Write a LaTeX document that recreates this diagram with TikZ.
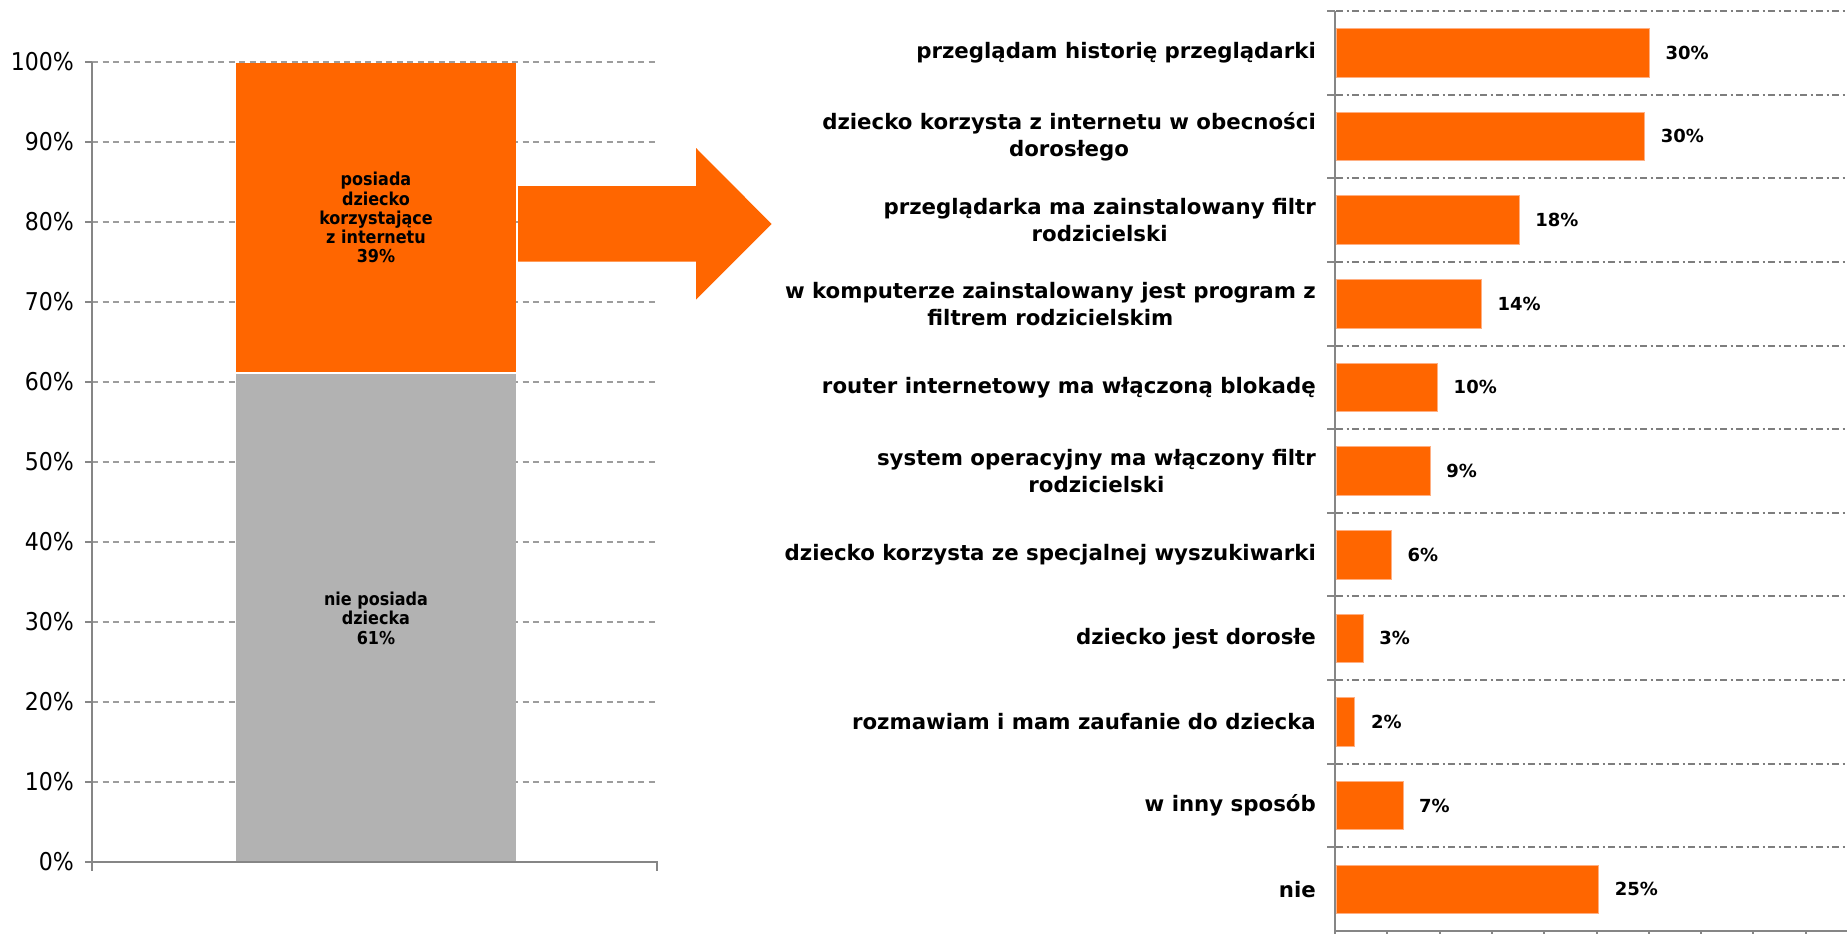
\documentclass[tikz,border=0pt]{standalone}
\usepackage{fontspec}
\setmainfont{DejaVu Sans}
\newfontfamily\condf{DejaVu Sans Condensed}
\definecolor{barorange}{HTML}{FF6600}
\definecolor{bargray}{HTML}{B2B2B2}
\definecolor{axisgray}{HTML}{868686}
\definecolor{gridgray}{HTML}{8C8C8C}
\tikzset{
  axisline/.style={draw=axisgray, line width=2pt},
  lgrid/.style={draw=gridgray!85, line width=1.4pt, dash pattern=on 6pt off 4.5pt},
  rgrid/.style={draw=gridgray!90!black, line width=2pt, dash pattern=on 7pt off 3.5pt on 2pt off 3.5pt},
  ylab/.style={font=\condf\fontsize{24.5}{28}\selectfont, anchor=east, inner sep=0pt},
  seglab/.style={font=\condf\bfseries\fontsize{17.8}{19.2}\selectfont, align=center, inner sep=0pt},
  catlab/.style={font=\bfseries\fontsize{21.3}{27}\selectfont, align=center, anchor=east, inner sep=0pt},
  vallab/.style={font=\bfseries\fontsize{18}{21}\selectfont, anchor=west, inner sep=0pt},
  hbar/.style={fill=barorange, draw={rgb,255:red,255;green,175;blue,130}, line width=0.8pt},
}
\begin{document}
\begin{tikzpicture}[x=1pt, y=-1pt]
\useasboundingbox (0,0) rectangle (1847,934);
\fill[white] (0,0) rectangle (1847,934);

% ---------- left chart ----------
\foreach \p in {1,...,10} {
  \draw[lgrid] (92,{862-80*\p}) -- (657,{862-80*\p});
}
\foreach \p/\t in {0/0\%,1/10\%,2/20\%,3/30\%,4/40\%,5/50\%,6/60\%,7/70\%,8/80\%,9/90\%,10/100\%} {
  \draw[axisline] (85,{862-80*\p}) -- (92,{862-80*\p});
  \node[ylab] (yl\p) at (74,{862-80*\p}) {\t};
}
\node[fill=bargray, inner sep=0pt, minimum width=280.4pt, minimum height=489pt, anchor=north west] (segno) at (235.6,373.5) {};
\node[fill=barorange, inner sep=0pt, minimum width=280.4pt, minimum height=310.1pt, anchor=north west] (segyes) at (235.6,62.4) {};
\draw[white, line width=1.5pt] (segyes.south west) -- (segyes.south east);
\node[seglab] (labyes) at (segyes.center) {posiada\\dziecko\\korzystające\\z internetu\\39\%};
\node[seglab] (labno) at (segno.center) {nie posiada\\dziecka\\61\%};
\draw[axisline] (92,62) -- (92,871);
\draw[axisline] (91,862) -- (657,862) -- (657,871);

% ---------- arrow ----------
\fill[barorange] (518,186) -- (696,186) -- (696,148) -- (771.6,224) -- (696,299.5) -- (696,261.5) -- (518,261.5) -- cycle;

% ---------- right chart ----------
\foreach \k in {0,...,10} {
  \draw[rgrid] (1336,{11+83.64*\k}) -- (1847,{11+83.64*\k});
  \draw[axisline] (1327,{11+83.64*\k}) -- (1335,{11+83.64*\k});
}
\foreach \i/\v/\lab/\val in {
  0/30.05/{przeglądam historię przeglądarki}/30\%,
  1/29.6/{dziecko korzysta z internetu w obecności\\dorosłego}/30\%,
  2/17.6/{przeglądarka ma zainstalowany filtr\\rodzicielski}/18\%,
  3/14.0/{w komputerze zainstalowany jest program z\\filtrem rodzicielskim}/14\%,
  4/9.8/{router internetowy ma włączoną blokadę}/10\%,
  5/9.1/{system operacyjny ma włączony filtr\\rodzicielski}/9\%,
  6/5.4/{dziecko korzysta ze specjalnej wyszukiwarki}/6\%,
  7/2.7/{dziecko jest dorosłe}/3\%,
  8/1.9/{rozmawiam i mam zaufanie do dziecka}/2\%,
  9/6.5/{w inny sposób}/7\%,
  10/25.2/{nie}/25\%} {
  \pgfmathsetmacro\c{52.8+83.64*\i}
  \pgfmathsetmacro\e{1335+10.46*\v}
  \path[hbar] (1336,{\c-24.3}) rectangle (\e,{\c+24.3});
  \coordinate (bend\i) at (\e,\c);
  \node[vallab] (val\i) at ([xshift=16pt]bend\i) {\val};
  \node[catlab] (cat\i) at (1316,\c) {\lab};
}
\draw[axisline] (1335,11) -- (1335,934);
\draw[axisline] (1334,931) -- (1847,931);
\foreach \k in {1,...,9} {
  \draw[axisline] ({1335+52.3*\k},931) -- ({1335+52.3*\k},936);
}
\end{tikzpicture}
\end{document}
